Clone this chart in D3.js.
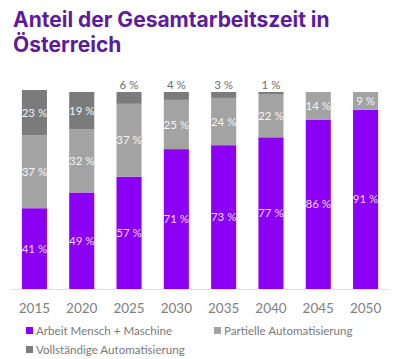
<!DOCTYPE html>
<html><head><meta charset="utf-8">
<script src="https://cdn.jsdelivr.net/npm/d3@7"></script>
<style>body{margin:0;background:#fff}svg{display:block}</style>
</head><body>
<script>
const years = ["2015","2020","2025","2030","2035","2040","2045","2050"];
const mensch = [41,49,57,71,73,77,86,91];
const partiell = [37,32,37,25,24,22,14,9];
const vollst = [23,19,6,4,3,1,0,0];
const seriesNames = ["Arbeit Mensch + Maschine","Partielle Automatisierung","Vollständige Automatisierung"];
const colors = ["#8b00f5","#a3a3a3","#7b7b7b"];

const W=400,H=359;
const svg=d3.select("body").append("svg").attr("width",W).attr("height",H);
const font="Lato, 'Open Sans', sans-serif";

svg.append("text").attr("x",13).attr("y",27).attr("font-family","Inter, sans-serif").attr("font-weight",700)
  .attr("font-size",21).attr("fill","#5b1d9c").text("Anteil der Gesamtarbeitszeit in");
svg.append("text").attr("x",13).attr("y",52).attr("font-family","Inter, sans-serif").attr("font-weight",700)
  .attr("font-size",21).attr("fill","#5b1d9c").text("Österreich");

const x=d3.scaleBand().domain(years).range([11,389]).paddingInner(0.47).paddingOuter(0.23);
const y=d3.scaleLinear().domain([0,100]).range([289,92]);

const data=years.map((yr,i)=>({year:yr,m:mensch[i],p:partiell[i],v:vollst[i]}));
const stack=d3.stack().keys(["m","p","v"])(data);

stack.forEach((layer,li)=>{
  svg.append("g").selectAll("rect").data(layer).join("rect")
    .attr("x",d=>x(d.data.year)).attr("width",x.bandwidth())
    .attr("y",d=>y(d[1])).attr("height",d=>y(d[0])-y(d[1]))
    .attr("fill",colors[li]);
});
stack.forEach((layer,li)=>{
  layer.forEach(d=>{
    const v=d[1]-d[0];
    if(v<=0) return;
    const cx=x(d.data.year)+x.bandwidth()/2;
    let ty, fill;
    if(v<10 && li===2){ ty=y(d[1])-3; fill="#6e6e6e"; }
    else { ty=(y(d[0])+y(d[1]))/2+4; fill= li===0?"#f0d8ff":"#f4f4f4"; }
    svg.append("text").attr("x",cx).attr("y",ty).attr("text-anchor","middle")
      .attr("font-family",font).attr("font-size",11.5).attr("fill",fill).text(v+" %");
  });
});

svg.append("line").attr("x1",10).attr("x2",390).attr("y1",289.5).attr("y2",289.5).attr("stroke","#e2e2e2");

const xa=svg.append("g").attr("transform","translate(0,289)")
  .call(d3.axisBottom(x).tickSize(0).tickPadding(14));
xa.select(".domain").remove();
xa.selectAll("text").attr("font-family",font).attr("font-size",13.5).attr("fill","#808080");

const leg=[{x:26,y:335},{x:214,y:335},{x:26,y:354}];
seriesNames.forEach((n,i)=>{
  svg.append("rect").attr("x",leg[i].x).attr("y",leg[i].y-8).attr("width",7).attr("height",7).attr("fill",colors[i]);
  svg.append("text").attr("x",leg[i].x+10).attr("y",leg[i].y).attr("font-family",font).attr("font-size",11.6)
    .attr("fill","#7a7a7a").text(n);
});
</script>
</body></html>
